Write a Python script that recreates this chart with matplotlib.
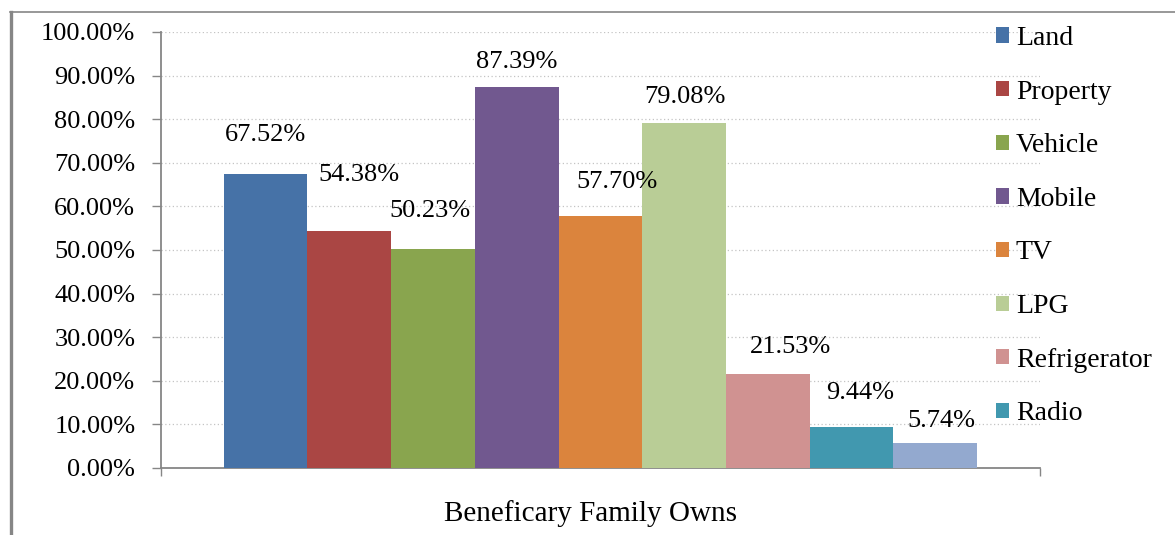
import matplotlib
matplotlib.use("Agg")
import matplotlib.pyplot as plt
from matplotlib.patches import Patch
from matplotlib.lines import Line2D
from matplotlib.ticker import FixedLocator, FuncFormatter

# ---- data -------------------------------------------------------------
categories = ["Land", "Property", "Vehicle", "Mobile", "TV", "LPG",
              "Refrigerator", "Radio", ""]
values = [67.52, 54.38, 50.23, 87.39, 57.70, 79.08, 21.53, 9.44, 5.74]
colors = ["#4672A7", "#AA4644", "#89A54E", "#71588F", "#DB843D",
          "#B9CD96", "#D09291", "#4198AF", "#93A9CF"]
y_ticks = [0, 10, 20, 30, 40, 50, 60, 70, 80, 90, 100]
axis_title = "Beneficary Family Owns"

# label placement relative to the top-centre of each bar (pixels)
label_dx = [0, 10, -3, 0, 17, 1, 23, 8, 6]
label_dy = [39, 56, 38, 25, 34, 26, 27, 34, 22]

# ---- figure ------------------------------------------------------------
W, H = 1175, 535
fig = plt.figure(figsize=(W / 100, H / 100), dpi=100)
plt.rcParams["font.family"] = ["Liberation Serif", "DejaVu Serif"]

ax_left, ax_right, ax_top, ax_bottom = 161, 1040, 32, 468
ax = fig.add_axes([ax_left / W, (H - ax_bottom) / H,
                   (ax_right - ax_left) / W, (ax_bottom - ax_top) / H])

grey = "#868686"
n = len(values)
x = list(range(n))
bars = ax.bar(x, values, width=1.0, color=colors, linewidth=0, zorder=3)

# gap of 1.5 bar widths split across both ends of the category
x_lo, x_hi = -0.5 - 0.75, n - 0.5 + 0.75
ax.set_xlim(x_lo, x_hi)
ax.set_ylim(0, 100)

# y axis
ax.yaxis.set_major_locator(FixedLocator(y_ticks))
ax.yaxis.set_major_formatter(FuncFormatter(lambda v, p: f"{v:.2f}%"))
ax.tick_params(axis="y", direction="out", length=6.5, width=1.0,
               color=grey, labelsize=19, pad=12, labelcolor="black")
ax.yaxis.grid(True, linestyle=(0, (1, 2)), color="#c4c4c4",
              linewidth=0.9, zorder=0)
ax.set_axisbelow(True)

# x axis: tick marks only at the outer category boundaries
ax.set_xticks([x_lo, x_hi])
ax.set_xticklabels([])
ax.tick_params(axis="x", direction="out", length=6, width=1.0, color=grey)

for side in ("top", "right"):
    ax.spines[side].set_visible(False)
for side in ("left", "bottom"):
    ax.spines[side].set_color(grey)
    ax.spines[side].set_linewidth(1.3)

ax.set_xlabel(axis_title, fontsize=21, va="center")
ax.xaxis.set_label_coords((591 - ax_left) / (ax_right - ax_left),
                          (ax_bottom - 514) / (ax_bottom - ax_top))

# value labels
for rect, v, dx, dy in zip(bars, values, label_dx, label_dy):
    ax.annotate(f"{v:.2f}%",
                xy=(rect.get_x() + rect.get_width() / 2, v),
                xytext=(dx, dy), textcoords="offset pixels",
                ha="center", va="center", fontsize=19, zorder=5)

# legend (named categories only)
handles = [Patch(facecolor=c, edgecolor="none", label=name)
           for name, c in zip(categories, colors) if name]
leg = fig.legend(handles=handles, loc="upper left",
                 bbox_to_anchor=(996 / W, (H - 26) / H),
                 frameon=False, fontsize=20, borderpad=0, borderaxespad=0,
                 handlelength=0.47, handleheight=0.47, handletextpad=0.25,
                 labelspacing=1.03)

# outer chart frame
fig.add_artist(Line2D([10 / W, 1.0], [(H - 12) / H] * 2, color=grey,
                      linewidth=1.2, transform=fig.transFigure))
fig.add_artist(Line2D([10.5 / W] * 2, [0, (H - 12) / H], color=grey,
                      linewidth=2.4, transform=fig.transFigure))

fig.savefig("out.png", dpi=100, facecolor="white")
